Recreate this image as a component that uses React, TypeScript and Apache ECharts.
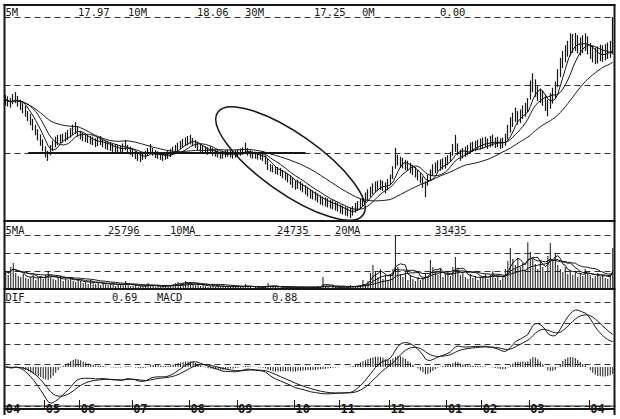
import React, { useEffect, useRef } from "react";
import * as echarts from "echarts";

// ---------- data ----------
const monthLabels = ["04", "05", "06", "07", "08", "09", "10", "11", "12", "01", "02", "03", "04"];
const monthDays = [16, 14, 21, 23, 19, 23, 18, 20, 23, 14, 19, 24, 10];

const closes = [
  15.54, 15.45, 15.41, 15.54, 15.63, 15.45, 15.32, 15.19, 15.01, 14.83, 14.66, 14.44, 14.22, 13.99, 13.77, 13.51,
  13.24, 13.07, 13.33, 13.51, 13.69, 13.77, 13.82, 13.86, 13.91, 13.99, 14.08, 14.22, 14.30, 14.13,
  13.99, 13.91, 13.86, 13.82, 13.77, 13.73, 13.64, 13.69, 13.73, 13.64, 13.55, 13.51, 13.47, 13.42, 13.42, 13.38, 13.33, 13.42, 13.51, 13.38, 13.29,
  13.20, 13.11, 13.02, 12.98, 13.07, 13.11, 13.25, 13.33, 13.25, 13.16, 13.11, 13.07, 13.02, 13.07, 13.11, 13.20, 13.29, 13.38, 13.47, 13.55, 13.64, 13.69, 13.73,
  13.77, 13.69, 13.60, 13.51, 13.42, 13.38, 13.33, 13.29, 13.33, 13.25, 13.20, 13.16, 13.11, 13.11, 13.16, 13.20, 13.16, 13.11, 13.16,
  13.20, 13.25, 13.29, 13.33, 13.25, 13.16, 13.11, 13.11, 13.07, 13.07, 13.02, 12.89, 12.63, 12.54, 12.50, 12.45, 12.41, 12.36, 12.27, 12.19, 12.10, 12.01, 11.88,
  11.79, 11.83, 11.75, 11.66, 11.57, 11.48, 11.39, 11.35, 11.30, 11.22, 11.13, 11.08, 11.04, 11.00, 10.95, 10.91, 10.86, 10.82,
  10.73, 10.69, 10.64, 10.60, 10.55, 10.64, 10.77, 10.86, 10.95, 11.08, 11.22, 11.35, 11.48, 11.61, 11.70, 11.75, 11.79, 11.75, 11.66, 11.79,
  12.01, 12.40, 12.80, 12.89, 12.80, 12.76, 12.67, 12.63, 12.54, 12.45, 12.36, 12.23, 12.10, 11.92, 11.66, 12.01, 12.23, 12.45, 12.54, 12.63, 12.67, 12.72, 12.76,
  12.89, 13.02, 13.33, 13.51, 13.33, 13.11, 13.20, 13.25, 13.33, 13.42, 13.47, 13.51, 13.55, 13.60,
  13.64, 13.69, 13.60, 13.69, 13.73, 13.64, 13.69, 13.60, 13.64, 13.77, 14.13, 14.44, 14.66, 14.88, 14.75, 14.83, 15.01, 15.10, 15.32,
  15.98, 16.33, 16.07, 15.89, 15.76, 15.63, 15.45, 15.19, 15.54, 15.76, 15.98, 16.55, 17.00, 17.35, 17.60, 17.80, 17.96, 18.05, 18.10, 18.01, 17.92, 18.01, 18.10, 17.96,
  17.70, 17.55, 17.48, 17.52, 17.60, 17.56, 17.62, 17.68, 17.74, 17.90,
];

const highs = [
  15.76, 15.70, 15.62, 15.80, 15.89, 15.72, 15.55, 15.40, 15.28, 15.05, 14.92, 14.70, 14.45, 14.25, 14.02, 13.80,
  13.50, 13.30, 13.55, 13.75, 13.92, 14.00, 14.02, 14.05, 14.12, 14.22, 14.30, 14.45, 14.56, 14.35,
  14.18, 14.10, 14.05, 14.00, 13.95, 13.92, 13.85, 13.90, 13.95, 13.84, 13.75, 13.70, 13.65, 13.60, 13.60, 13.56, 13.52, 13.62, 13.77, 13.56, 13.48,
  13.38, 13.28, 13.20, 13.15, 13.24, 13.30, 13.42, 13.60, 13.42, 13.33, 13.28, 13.24, 13.20, 13.25, 13.30, 13.38, 13.48, 13.56, 13.66, 13.74, 13.82, 13.88, 13.95,
  14.00, 13.86, 13.78, 13.70, 13.60, 13.55, 13.50, 13.46, 13.50, 13.42, 13.36, 13.32, 13.27, 13.27, 13.32, 13.36, 13.32, 13.28, 13.32,
  13.36, 13.40, 13.45, 13.66, 13.42, 13.32, 13.27, 13.26, 13.22, 13.22, 13.18, 13.10, 12.95, 12.72, 12.66, 12.62, 12.58, 12.54, 12.46, 12.38, 12.30, 12.22, 12.10,
  12.00, 12.02, 11.95, 11.86, 11.78, 11.68, 11.60, 11.55, 11.50, 11.42, 11.33, 11.28, 11.24, 11.20, 11.15, 11.12, 11.06, 11.02,
  10.93, 10.88, 10.84, 10.80, 10.78, 10.86, 11.00, 11.08, 11.18, 11.32, 11.46, 11.60, 11.72, 11.86, 11.94, 11.98, 12.02, 11.98, 11.90, 12.05,
  12.25, 12.62, 13.42, 13.12, 13.04, 12.98, 12.90, 12.86, 12.77, 12.68, 12.58, 12.46, 12.33, 12.16, 11.95, 12.25, 12.48, 12.70, 12.78, 12.88, 12.92, 12.97, 13.02,
  13.10, 13.25, 13.60, 14.00, 13.62, 13.35, 13.42, 13.48, 13.56, 13.66, 13.70, 13.74, 13.78, 13.84,
  13.88, 13.92, 13.84, 13.95, 14.02, 13.88, 13.92, 13.84, 13.88, 14.05, 14.45, 14.78, 14.98, 15.20, 15.05, 15.12, 15.30, 15.42, 15.62,
  16.40, 16.72, 16.45, 16.20, 16.05, 15.95, 15.78, 15.55, 15.85, 16.08, 16.35, 16.90, 17.40, 17.70, 17.95, 18.15, 18.48, 18.45, 18.50, 18.40, 18.30, 18.40, 18.48, 18.35,
  18.05, 17.92, 17.85, 17.90, 17.98, 17.95, 18.00, 18.08, 18.15, 19.20,
];

const lows = [
  15.30, 15.25, 15.20, 15.35, 15.40, 15.25, 15.10, 14.95, 14.80, 14.60, 14.42, 14.20, 13.98, 13.75, 13.52, 13.28,
  13.00, 12.85, 13.10, 13.30, 13.45, 13.55, 13.62, 13.65, 13.70, 13.78, 13.88, 14.00, 14.05, 13.92,
  13.80, 13.72, 13.68, 13.64, 13.58, 13.55, 13.46, 13.50, 13.55, 13.45, 13.38, 13.33, 13.29, 13.25, 13.25, 13.20, 13.16, 13.24, 13.32, 13.20, 13.12,
  13.03, 12.93, 12.85, 12.80, 12.90, 12.94, 13.08, 13.15, 13.08, 12.98, 12.94, 12.90, 12.85, 12.90, 12.94, 13.02, 13.11, 13.20, 13.29, 13.37, 13.46, 13.50, 13.54,
  13.58, 13.50, 13.42, 13.33, 13.25, 13.21, 13.16, 13.12, 13.16, 13.08, 13.04, 13.00, 12.95, 12.95, 13.00, 13.04, 13.00, 12.95, 13.00,
  13.04, 13.08, 13.12, 13.16, 13.08, 13.00, 12.95, 12.95, 12.91, 12.90, 12.85, 12.70, 12.45, 12.38, 12.34, 12.28, 12.24, 12.18, 12.08, 12.00, 11.90, 11.80, 11.66,
  11.58, 11.62, 11.55, 11.46, 11.37, 11.28, 11.19, 11.15, 11.10, 11.02, 10.93, 10.88, 10.84, 10.80, 10.75, 10.71, 10.66, 10.62,
  10.53, 10.49, 10.44, 10.40, 10.33, 10.44, 10.56, 10.65, 10.74, 10.86, 11.00, 11.12, 11.25, 11.38, 11.46, 11.52, 11.56, 11.52, 11.42, 11.55,
  11.78, 12.05, 12.50, 12.65, 12.56, 12.52, 12.44, 12.40, 12.30, 12.22, 12.12, 11.99, 11.86, 11.66, 11.26, 11.76, 11.98, 12.20, 12.30, 12.38, 12.42, 12.47, 12.51,
  12.66, 12.80, 13.08, 13.25, 13.10, 12.86, 12.96, 13.02, 13.10, 13.18, 13.24, 13.28, 13.32, 13.36,
  13.40, 13.45, 13.38, 13.45, 13.50, 13.42, 13.46, 13.38, 13.42, 13.52, 13.80, 14.10, 14.35, 14.56, 14.45, 14.52, 14.70, 14.80, 15.00,
  15.55, 15.88, 15.68, 15.50, 15.40, 15.28, 15.05, 14.82, 15.15, 15.38, 15.58, 16.10, 16.55, 16.95, 17.20, 17.45, 17.50, 17.62, 17.70, 17.60, 17.50, 17.60, 17.70, 17.55,
  17.35, 17.20, 17.12, 17.15, 17.25, 17.22, 17.28, 17.35, 17.40, 17.55,
];

const volumes = [
  39600, 30800, 48400, 57200, 35200, 28600, 26400, 33000, 24200, 22000, 26400, 30800, 19800, 24200, 28600, 22000,
  30800, 39600, 26400, 22000, 19800, 24200, 28600, 17600, 22000, 19800, 26400, 17600, 15400, 19800,
  17600, 13200, 15400, 11000, 19800, 13200, 11000, 15400, 8800, 13200, 11000, 8800, 13200, 11000, 6600, 8800, 11000, 6600, 17600, 8800, 6600,
  6600, 8800, 4400, 6600, 4400, 6600, 13200, 8800, 6600, 4400, 6600, 4400, 6600, 8800, 6600, 8800, 11000, 13200, 15400, 11000, 13200, 17600, 13200,
  15400, 11000, 8800, 11000, 6600, 8800, 6600, 4400, 6600, 8800, 4400, 6600, 4400, 6600, 4400, 4400, 6600, 4400, 6600,
  4400, 6600, 4400, 11000, 4400, 4400, 2200, 4400, 4400, 2200, 4400, 6600, 13200, 6600, 4400, 4400, 4400, 2200, 4400, 4400, 2200, 4400, 4400,
  4400, 2200, 4400, 4400, 2200, 4400, 2200, 4400, 4400, 6600, 4400, 26400, 6600, 4400, 2200, 4400, 4400, 2200,
  4400, 4400, 2200, 6600, 8800, 6600, 4400, 6600, 8800, 19800, 11000, 17600, 35200, 52800, 39600, 26400, 44000, 22000, 30800, 19800,
  33000, 44000, 118800, 48400, 33000, 26400, 37400, 19800, 30800, 22000, 17600, 26400, 19800, 24200, 35200, 28600, 63800, 48400, 39600, 30800, 46200, 26400, 33000,
  37400, 28600, 48400, 70400, 44000, 30800, 37400, 26400, 22000, 33000, 24200, 28600, 19800, 26400,
  26400, 33000, 22000, 30800, 39600, 24200, 28600, 19800, 26400, 44000, 61600, 90200, 66000, 52800, 68200, 48400, 57200, 41800, 103400,
  81400, 66000, 55000, 44000, 61600, 48400, 39600, 72600, 101200, 61600, 79200, 52800, 44000, 37400, 48400, 33000, 41800, 30800, 39600, 26400, 35200, 28600, 44000, 33000,
  30800, 24200, 28600, 35200, 26400, 30800, 24200, 22000, 33000, 90200,
];

const priceMaNames = ["5M", "10M", "30M", "0M"];
const priceMaValues = ["17.97", "18.06", "17.25", "0.00"];
const volMaNames = ["5MA", "10MA", "20MA"];
const volMaValues = ["25796", "24735", "33435"];
const macdNames = ["DIF", "MACD"];
const macdValues = ["0.69", "0.88"];

// hand-drawn support line on the price panel
const supportLevel = 13.22;
const supportFromIndex = 9;
const supportToIndex = 120;

// ---------- helpers ----------
const categories: string[] = [];
monthLabels.forEach((m, mi) => {
  for (let d = 1; d <= monthDays[mi]; d++) categories.push(`${m}|${mi}|${d}`);
});

function movingAverage(src: number[], n: number): number[] {
  return src.map((_, i) => {
    const s = Math.max(0, i - n + 1);
    let sum = 0;
    for (let k = s; k <= i; k++) sum += src[k];
    return +(sum / (i - s + 1)).toFixed(4);
  });
}
function ema(src: number[], n: number): number[] {
  const a = 2 / (n + 1);
  const out: number[] = [];
  let prev = src[0];
  src.forEach((v, i) => {
    prev = i === 0 ? v : prev + a * (v - prev);
    out.push(prev);
  });
  return out;
}

const MONO = '"DejaVu Sans Mono", "Liberation Mono", monospace';
const INK = "#161616";

export default function App() {
  const ref = useRef<HTMLDivElement>(null);

  useEffect(() => {
    if (!ref.current) return;
    const chart = echarts.init(ref.current, undefined, { renderer: "svg" });

    const ema12 = ema(closes, 12);
    const ema26 = ema(closes, 26);
    const dif = ema12.map((v, i) => v - ema26[i]);
    const dea = ema(dif, 9);
    const hist = dif.map((v, i) => v - dea[i]);
    const lo = Math.min(...dif, ...dea);
    const hi = Math.max(...dif, ...dea);
    const k = Math.min(36 / Math.abs(lo), 68 / hi);
    const macdMin = -39 / k;
    const macdMax = 78 / k;

    const isMonthStart = (_i: number, v: string) => v.split("|")[2] === "1";
    const dash = { color: "#333333", width: 1, type: [6, 4] as number[] };
    const frameAxis = (gridIndex: number, max: number, interval: number) => ({
      type: "value",
      gridIndex,
      min: 0,
      max,
      interval,
      axisLine: { show: false },
      axisTick: { show: false },
      axisLabel: { show: false },
      splitLine: { show: true, lineStyle: dash },
    });
    const lineSeries = (data: number[], xi: number, yi: number) => ({
      type: "line",
      data,
      xAxisIndex: xi,
      yAxisIndex: yi,
      symbol: "none",
      silent: true,
      lineStyle: { color: INK, width: 1 },
      z: 3,
    });

    const textEls: any[] = [];
    const addTexts = (names: string[], values: string[], xs: number[], y: number) => {
      names.forEach((n, i) => {
        textEls.push({ type: "text", x: xs[i * 2], y, z: 100, style: { text: n, fill: INK, fontFamily: MONO, fontSize: 10.5, verticalAlign: "middle" } });
        textEls.push({ type: "text", x: xs[i * 2 + 1], y, z: 100, style: { text: values[i], fill: INK, fontFamily: MONO, fontSize: 10.5, verticalAlign: "middle" } });
      });
    };
    addTexts(priceMaNames, priceMaValues, [5.5, 78, 128, 197, 245, 314, 362, 440], 11.5);
    addTexts(volMaNames, volMaValues, [5.5, 108, 170, 277, 335, 435], 229.5);
    addTexts(macdNames, macdValues, [5.5, 112, 157, 272], 297);

    const frame = (x1: number, y1: number, x2: number, y2: number, w = 2) => ({
      type: "line",
      z: 90,
      silent: true,
      shape: { x1, y1, x2, y2 },
      style: { stroke: INK, lineWidth: w },
    });

    const option: any = {
      animation: false,
      backgroundColor: "#ffffff",
      grid: [
        { left: 4.5, right: 6, top: 5, height: 216 },
        { left: 4.5, right: 6, top: 221, height: 68 },
        { left: 4.5, right: 6, top: 289, height: 117 },
        { left: 4.5, right: 6, top: 406, height: 8 },
      ],
      xAxis: [
        { type: "category", gridIndex: 0, data: categories, boundaryGap: true, show: false },
        { type: "category", gridIndex: 1, data: categories, boundaryGap: true, show: false },
        { type: "category", gridIndex: 2, data: categories, boundaryGap: true, show: false },
        {
          type: "category",
          gridIndex: 3,
          data: categories,
          boundaryGap: true,
          position: "bottom",
          axisLine: { show: true, lineStyle: { color: INK, width: 2 } },
          axisTick: { show: true, inside: true, length: 9, interval: isMonthStart, lineStyle: { color: INK, width: 1 } },
          axisLabel: {
            show: true,
            interval: isMonthStart,
            formatter: (v: string) => v.split("|")[0],
            align: "left",
            verticalAlign: "top",
            margin: -6,
            color: INK,
            fontFamily: MONO,
            fontSize: 12,
            fontWeight: "bold",
          },
          splitLine: { show: false },
        },
      ],
      yAxis: [
        { type: "value", gridIndex: 0, min: 10.2, max: 19.73, show: false },
        frameAxis(0, 216, 68),
        { type: "value", gridIndex: 1, min: 0, max: 150000, show: false },
        frameAxis(1, 68, 18),
        { type: "value", gridIndex: 2, min: macdMin, max: macdMax, show: false },
        frameAxis(2, 117, 20.7),
        { type: "value", gridIndex: 3, min: 0, max: 1, show: false },
      ],
      series: [
        {
          type: "candlestick",
          xAxisIndex: 0,
          yAxisIndex: 0,
          barWidth: 1,
          silent: true,
          data: closes.map((c, i) => [c, c, lows[i], highs[i]]),
          itemStyle: { color: INK, color0: INK, borderColor: INK, borderColor0: INK, borderWidth: 1.2 },
          markLine: {
            silent: true,
            symbol: "none",
            label: { show: false },
            lineStyle: { color: INK, width: 2, type: "solid" },
            data: [[{ coord: [supportFromIndex, supportLevel] }, { coord: [supportToIndex, supportLevel] }]],
          },
        },
        lineSeries(movingAverage(closes, 5), 0, 0),
        lineSeries(movingAverage(closes, 10), 0, 0),
        lineSeries(movingAverage(closes, 30), 0, 0),
        { type: "bar", xAxisIndex: 1, yAxisIndex: 2, barWidth: 1, silent: true, data: volumes, itemStyle: { color: INK } },
        lineSeries(movingAverage(volumes, 5), 1, 2),
        lineSeries(movingAverage(volumes, 10), 1, 2),
        lineSeries(movingAverage(volumes, 20), 1, 2),
        { type: "bar", xAxisIndex: 2, yAxisIndex: 4, barWidth: 1, silent: true, data: hist.map((v) => +v.toFixed(4)), itemStyle: { color: INK } },
        lineSeries(dif.map((v) => +v.toFixed(4)), 2, 4),
        lineSeries(dea.map((v) => +v.toFixed(4)), 2, 4),
      ],
      graphic: [
        frame(3.5, 5, 615.5, 5),
        frame(4.5, 4, 4.5, 415),
        frame(614.5, 4, 614.5, 415),
        frame(3.5, 221, 615.5, 221),
        frame(3.5, 289, 615.5, 289),
        frame(3.5, 406, 615.5, 406, 1),
        {
          type: "ellipse",
          x: 290.5,
          y: 163.5,
          rotation: -0.614,
          z: 95,
          silent: true,
          shape: { cx: 0, cy: 0, rx: 89, ry: 29.5 },
          style: { fill: "none", stroke: INK, lineWidth: 1.5 },
        },
        ...textEls,
      ],
    };

    chart.setOption(option);
    return () => chart.dispose();
  }, []);

  return (
    <div
      ref={ref}
      style={{ position: "absolute", left: 0, top: 0, width: 620, height: 415, background: "#fff" }}
    />
  );
}
